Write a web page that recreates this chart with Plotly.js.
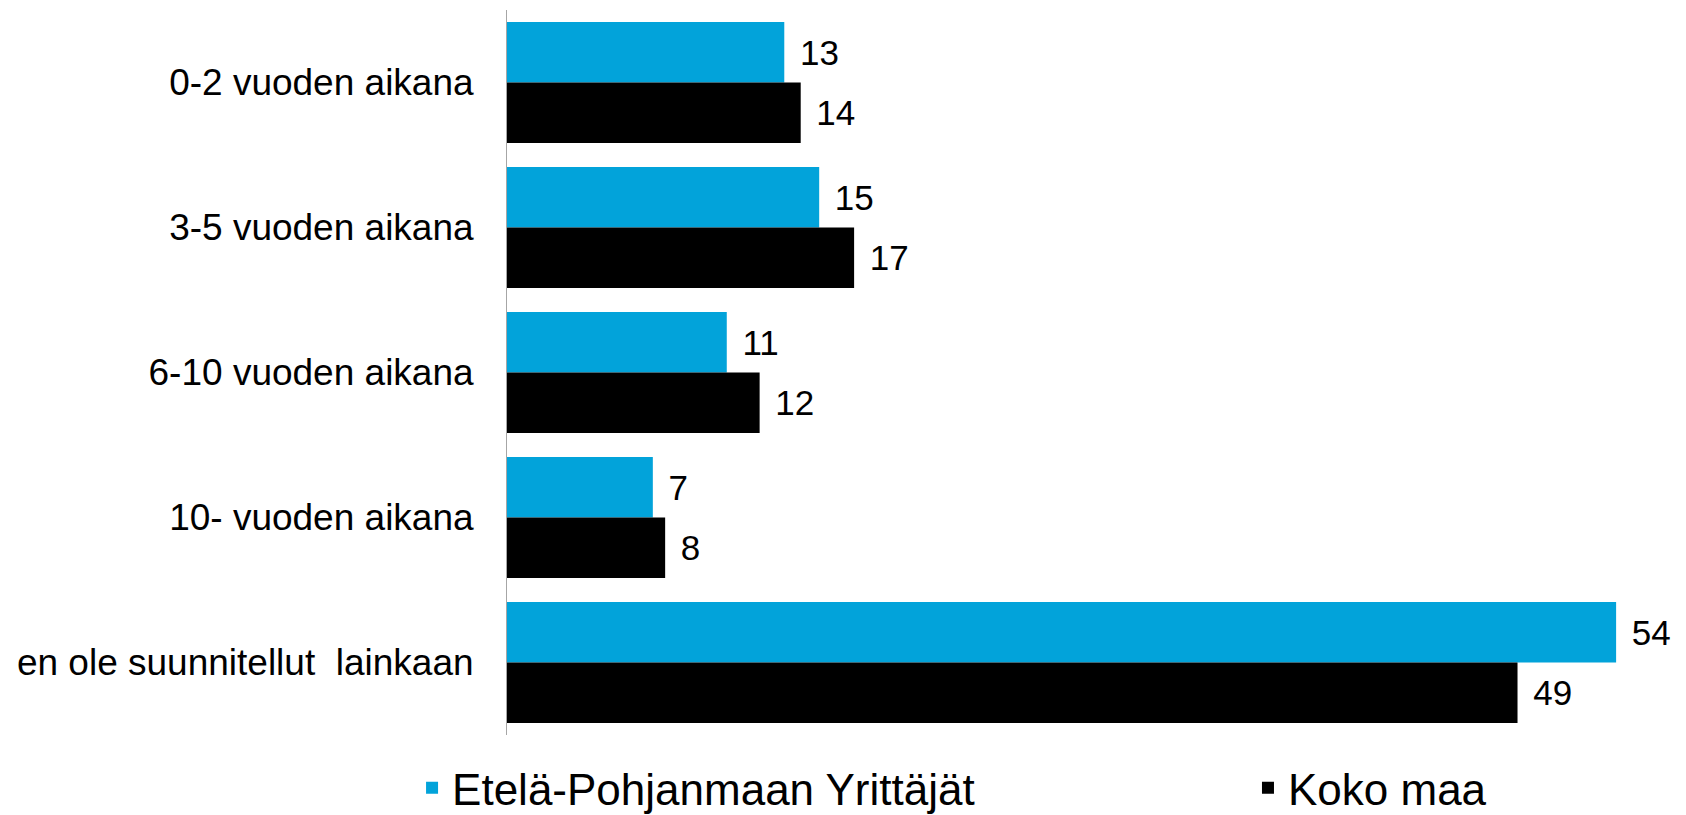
<!DOCTYPE html>
<html>
<head>
<meta charset="utf-8">
<script src="https://cdn.plot.ly/plotly-3.0.1.min.js"></script>
<style>
html,body{margin:0;padding:0;background:#fff;}
#chart{width:1686px;height:815px;}
</style>
</head>
<body>
<div id="chart"></div>
<script>
// Data
var categories = ["0-2 vuoden aikana", "3-5 vuoden aikana", "6-10 vuoden aikana", "10- vuoden aikana", "en ole suunnitellut\u00a0 lainkaan"];
var seriesNames = ["Etelä-Pohjanmaan Yrittäjät", "Koko maa"];
var etelaValues = [13.5, 15.2, 10.7, 7.1, 54.0];
var etelaLabels = ["13", "15", "11", "7", "54"];
var kokoValues = [14.3, 16.9, 12.3, 7.7, 49.2];
var kokoLabels = ["14", "17", "12", "8", "49"];

var pad = "\u00a0\u200a";
var FONT = "Liberation Sans, Arial, Helvetica, sans-serif";

var traces = [
  {
    type: "bar", orientation: "h", name: seriesNames[0],
    x: etelaValues, y: categories,
    text: etelaLabels.map(function(t){return pad + t;}),
    textposition: "outside", cliponaxis: false,
    textfont: {family: FONT, size: 35, color: "#000"},
    marker: {color: "#02a3da"},
    legend: "legend",
    hoverinfo: "x+y"
  },
  {
    type: "bar", orientation: "h", name: seriesNames[1],
    x: kokoValues, y: categories,
    text: kokoLabels.map(function(t){return pad + t;}),
    textposition: "outside", cliponaxis: false,
    textfont: {family: FONT, size: 35, color: "#000"},
    marker: {color: "#000000"},
    legend: "legend2",
    hoverinfo: "x+y"
  }
];

var legendBase = {
  orientation: "h", xref: "container", yref: "container",
  xanchor: "left", y: 0.033, yanchor: "middle",
  font: {family: FONT, size: 44, color: "#000"},
  bgcolor: "rgba(0,0,0,0)"
};

var layout = {
  width: 1686, height: 815,
  paper_bgcolor: "#fff", plot_bgcolor: "#fff",
  margin: {l: 507, r: 36, t: 10, b: 80, pad: 0, autoexpand: false},
  barmode: "group", bargap: 0.166, bargroupgap: 0,
  font: {family: FONT, size: 37, color: "#000"},
  xaxis: {
    range: [0, 55.65], showgrid: false, zeroline: false, showline: false,
    showticklabels: false, ticks: "", fixedrange: true
  },
  yaxis: {
    autorange: "reversed", type: "category",
    showline: true, linecolor: "#a6a6a6", linewidth: 1,
    showgrid: false, zeroline: false, ticks: "",
    ticklabelstandoff: 25, automargin: false,
    tickfont: {family: FONT, size: 37, color: "#000"}
  },
  showlegend: true,
  legend: Object.assign({}, legendBase, {x: 0.2444}),
  legend2: Object.assign({}, legendBase, {x: 0.7402})
};

Plotly.newPlot("chart", traces, layout, {displayModeBar: false, staticPlot: true});
</script>
</body>
</html>
